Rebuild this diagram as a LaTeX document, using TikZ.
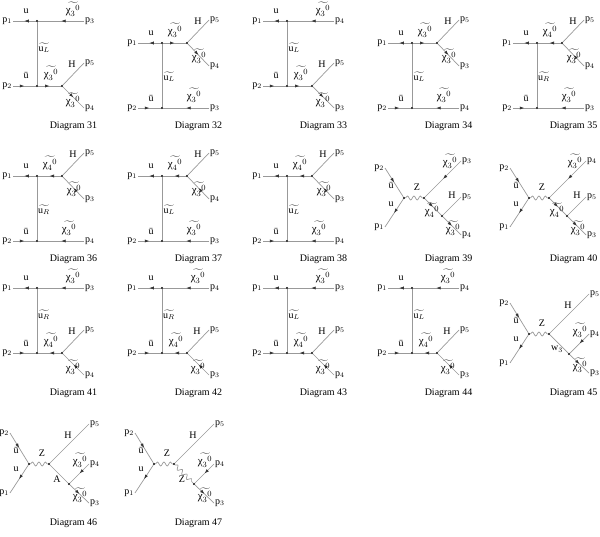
\documentclass[tikz,border=0pt]{standalone}
\usepackage{fontspec}
\setmainfont{Liberation Serif}
\usetikzlibrary{arrows.meta,decorations.markings,decorations.pathmorphing}
\definecolor{linegray}{rgb}{0.6,0.6,0.6}
\definecolor{tipgray}{rgb}{0.2,0.2,0.2}

\newcommand{\chit}[1]{$\widetilde{\mbox{χ}_{#1}{}^{0}}$}
\newcommand{\sqk}[1]{$\widetilde{\mbox{u}_{#1}}$}
\newcommand{\pp}[1]{p$_{#1}$}

\tikzset{
  prop/.style={draw=linegray, line width=0.7pt},
  scalar/.style={prop},
  fermion/.style={prop, postaction={decorate},
    decoration={markings, mark=at position 0.5 with {\arrow[tipgray]{Latex[length=4.5pt,width=3.2pt]}}}},
  antifermion/.style={prop, postaction={decorate},
    decoration={markings, mark=at position 0.5 with {\arrowreversed[tipgray]{Latex[length=4.5pt,width=3.2pt]}}}},
  boson/.style={prop, decorate, decoration={snake, segment length=6.5pt, amplitude=2pt}},
  vtx/.style={circle, fill=black, inner sep=0pt, minimum size=2.4pt},
  lbl/.style={font=\fontsize{10}{11}\selectfont, inner sep=1pt},
  chilbl/.style={font=\fontsize{11}{12}\selectfont, inner sep=0.5pt},
  captxt/.style={font=\fontsize{10}{12}\selectfont, inner sep=0pt}
}

% t-channel, decay on the lower line
\newcommand{\tchanlow}[8]{%
\begin{scope}[shift={(#1,#2)}]
  \node[vtx] (v1) at (37,21) {};
  \node[vtx] (v2) at (37,86) {};
  \node[vtx] (v3) at (62,86) {};
  \coordinate (e1) at (13,21);
  \coordinate (e2) at (13,86);
  \coordinate (e3) at (84,21);
  \coordinate (e4) at (84,63);
  \coordinate (e5) at (84,108);
  \draw[fermion] (v1) -- (e1);
  \draw[fermion] (e3) -- (v1);
  \draw[scalar] (v1) -- (v2);
  \draw[fermion] (e2) -- (v2);
  \draw[#8] (v2) -- (v3);
  \draw[scalar] (v3) -- (e4);
  \draw[#8] (v3) -- (e5);
  \node[lbl,left] (lp1) at (e1) {\pp{1}};
  \node[lbl] (lu) at (26,11) {u};
  \node[chilbl] (lct) at (73,9) {\chit{3}};
  \node[lbl,right] (lpt) at (e3) {\pp{#4}};
  \node[lbl] (lsq) at (44,48) {\sqk{#5}};
  \node[lbl] (lub) at (26,76) {\={u}};
  \node[lbl,left] (lp2) at (e2) {\pp{2}};
  \node[chilbl] (lci) at (51,73) {\chit{#6}};
  \node[lbl] (lh) at (72,64) {H};
  \node[lbl,right] (lph) at (e4) {\pp{5}};
  \node[chilbl] (lcl) at (73,100) {\chit{3}};
  \node[lbl,right] (lpl) at (e5) {\pp{#7}};
  \node[captxt] (cap) at (73.5,126) {Diagram #3};
\end{scope}}

% t-channel, decay on the upper line
\newcommand{\tchanup}[8]{%
\begin{scope}[shift={(#1,#2)}]
  \node[vtx] (v1) at (37,43) {};
  \node[vtx] (v3) at (62,43) {};
  \node[vtx] (v2) at (37,108) {};
  \coordinate (e1) at (13,43);
  \coordinate (e2) at (13,108);
  \coordinate (e3) at (84,108);
  \coordinate (e4) at (84,20);
  \coordinate (e5) at (84,66);
  \draw[fermion] (v1) -- (e1);
  \draw[#8] (v1) -- (v3);
  \draw[scalar] (v3) -- (e4);
  \draw[#8] (v3) -- (e5);
  \draw[scalar] (v1) -- (v2);
  \draw[fermion] (e2) -- (v2);
  \draw[fermion] (e3) -- (v2);
  \node[lbl,left] (lp1) at (e1) {\pp{1}};
  \node[lbl] (lu) at (26,33) {u};
  \node[chilbl] (lci) at (50,30) {\chit{#6}};
  \node[lbl] (lh) at (73,21) {H};
  \node[lbl,right] (lph) at (e4) {\pp{5}};
  \node[chilbl] (lcl) at (74,56) {\chit{3}};
  \node[lbl,right] (lpl) at (e5) {\pp{#7}};
  \node[lbl] (lsq) at (44,77) {\sqk{#5}};
  \node[lbl] (lub) at (26,98) {\={u}};
  \node[lbl,left] (lp2) at (e2) {\pp{2}};
  \node[chilbl] (lcb) at (69,95) {\chit{3}};
  \node[lbl,right] (lpb) at (e3) {\pp{#4}};
  \node[captxt] (cap) at (73.5,126) {Diagram #3};
\end{scope}}

% s-channel Z, neutralino cascade
\newcommand{\schanchi}[5]{%
\begin{scope}[shift={(#1,#2)}]
  \node[vtx] (v1) at (29,65) {};
  \node[vtx] (v2) at (49,65) {};
  \node[vtx] (v3) at (67,83) {};
  \coordinate (e2) at (10,35);
  \coordinate (e1) at (10,94);
  \coordinate (et) at (86,28);
  \coordinate (eh) at (86,64);
  \coordinate (el) at (86,102);
  \draw[fermion] (e2) -- (v1);
  \draw[fermion] (v1) -- (e1);
  \draw[boson] (v1) -- (v2);
  \draw[fermion] (et) -- (v2);
  \draw[fermion] (v2) -- (v3);
  \draw[scalar] (v3) -- (eh);
  \draw[fermion] (v3) -- (el);
  \node[lbl,left] (lp2) at (e2) {\pp{2}};
  \node[lbl] (lub) at (16,52) {\={u}};
  \node[lbl] (lu) at (16,71) {u};
  \node[lbl,left] (lp1) at (e1) {\pp{1}};
  \node[lbl] (lz) at (42,54) {Z};
  \node[chilbl] (lct) at (75,28) {\chit{3}};
  \node[lbl,right] (lpt) at (et) {\pp{#4}};
  \node[chilbl] (lci) at (57,77) {\chit{4}};
  \node[lbl] (lh) at (77,62) {H};
  \node[lbl,right] (lph) at (eh) {\pp{5}};
  \node[chilbl] (lcl) at (78,95) {\chit{3}};
  \node[lbl,right] (lpl) at (el) {\pp{#5}};
  \node[captxt] (cap) at (73.5,126) {Diagram #3};
\end{scope}}

% s-channel Z, Higgs radiated
\newcommand{\schanhiggs}[5]{%
\begin{scope}[shift={(#1,#2)}]
  \node[vtx] (v1) at (29,67) {};
  \node[vtx] (v2) at (49,67) {};
  \node[vtx] (v3) at (69,87) {};
  \coordinate (e2) at (10,36);
  \coordinate (e1) at (10,96);
  \coordinate (eh) at (89,27);
  \coordinate (eu) at (89,67);
  \coordinate (el) at (89,106);
  \draw[fermion] (e2) -- (v1);
  \draw[fermion] (v1) -- (e1);
  \draw[boson] (v1) -- (v2);
  \draw[scalar] (v2) -- (eh);
  \draw[#4] (v2) -- (v3);
  \draw[fermion] (eu) -- (v3);
  \draw[fermion] (v3) -- (el);
  \node[lbl,left] (lp2) at (e2) {\pp{2}};
  \node[lbl] (lub) at (16,53) {\={u}};
  \node[lbl] (lu) at (16,72) {u};
  \node[lbl,left] (lp1) at (e1) {\pp{1}};
  \node[lbl] (lz) at (42,56) {Z};
  \node[lbl] (lh) at (68,38) {H};
  \node[lbl,right] (lph) at (eh) {\pp{5}};
  \node[lbl] (lx) at (57,82) {#5};
  \node[chilbl] (lcu) at (80,63) {\chit{3}};
  \node[lbl,right] (lpu) at (eu) {\pp{4}};
  \node[chilbl] (lcl) at (80,98) {\chit{3}};
  \node[lbl,right] (lpl) at (el) {\pp{3}};
  \node[captxt] (cap) at (73.5,126) {Diagram #3};
\end{scope}}

\begin{document}
\begin{tikzpicture}[x=1pt,y=-1pt]
  \useasboundingbox (0,0) rectangle (600,537);
  % row 1
  \tchanlow{0}{0}{31}{3}{L}{3}{4}{fermion}
  \tchanup{125}{0}{32}{3}{L}{3}{4}{fermion}
  \tchanlow{250}{0}{33}{4}{L}{3}{3}{fermion}
  \tchanup{375}{0}{34}{4}{L}{3}{3}{fermion}
  \tchanup{500}{0}{35}{3}{R}{4}{4}{antifermion}
  % row 2
  \tchanup{0}{133}{36}{4}{R}{4}{3}{antifermion}
  \tchanup{125}{133}{37}{3}{L}{4}{4}{antifermion}
  \tchanup{250}{133}{38}{4}{L}{4}{3}{antifermion}
  \schanchi{375}{133}{39}{3}{4}
  \schanchi{500}{133}{40}{4}{3}
  % row 3
  \tchanlow{0}{267}{41}{3}{R}{4}{4}{antifermion}
  \tchanlow{125}{267}{42}{4}{R}{4}{3}{antifermion}
  \tchanlow{250}{267}{43}{3}{L}{4}{4}{antifermion}
  \tchanlow{375}{267}{44}{4}{L}{4}{3}{antifermion}
  \schanhiggs{500}{267}{45}{scalar}{w$_3$}
  % row 4
  \schanhiggs{0}{397}{46}{scalar}{A}
  \schanhiggs{125}{397}{47}{boson}{Z}
\end{tikzpicture}
\end{document}
